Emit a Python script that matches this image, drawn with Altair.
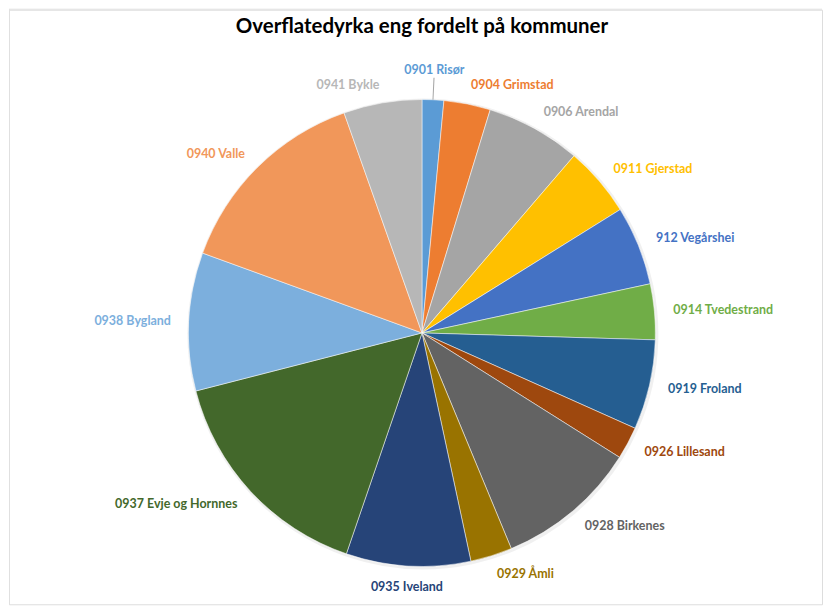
import altair as alt
import pandas as pd

title = "Overflatedyrka eng fordelt på kommuner"
kommuner = ["0901 Risør", "0904 Grimstad", "0906 Arendal", "0911 Gjerstad", "912 Vegårshei",
            "0914 Tvedestrand", "0919 Froland", "0926 Lillesand", "0928 Birkenes", "0929 Åmli",
            "0935 Iveland", "0937 Evje og Hornnes", "0938 Bygland", "0940 Valle", "0941 Bykle"]
verdier = [5.4, 11.6, 23.65, 17.45, 19.75, 13.85, 22.4, 8.1, 35.3, 10.4, 31.0, 56.7, 34.4, 50.5, 19.5]
farger = ["#5B9BD5", "#ED7D31", "#A5A5A5", "#FFC000", "#4472C4", "#70AD47", "#255E91", "#9E480E",
          "#636363", "#997300", "#264478", "#43682B", "#7CAFDD", "#F1975A", "#B7B7B7"]

df = pd.DataFrame({"kommune": kommuner, "verdi": verdier, "rekkefolge": list(range(len(kommuner)))})
total = float(sum(verdier))

W, H = 815, 596
CX, CY = 414, 324
R = 234
FONT = "Lato"
FS = 12.5

color = alt.Color("kommune:N", scale=alt.Scale(domain=kommuner, range=farger), legend=None)
theta_scale = alt.Scale(domain=[0, total])

base = alt.Chart(df)

shadow = base.mark_arc(radius=R + 2, color="#000000", opacity=0.06).encode(
    theta=alt.Theta("verdi:Q", stack=True, scale=theta_scale),
    order=alt.Order("rekkefolge:Q"),
    x=alt.value(CX + 1), y=alt.value(CY + 1),
)

pie = base.mark_arc(radius=R, stroke="#FFFFFF", strokeWidth=0.5).encode(
    theta=alt.Theta("verdi:Q", stack=True, scale=theta_scale),
    order=alt.Order("rekkefolge:Q"),
    color=color,
    x=alt.value(CX), y=alt.value(CY),
)

mid = base.transform_window(
    cum="sum(verdi)", sort=[alt.SortField("rekkefolge")], frame=[None, 0]
).transform_calculate(
    mid="datum.cum - datum.verdi / 2",
    deg="(datum.cum - datum.verdi / 2) / %f * 360" % total,
).transform_calculate(
    side="datum.deg < 4 || (datum.deg > 176 && datum.deg < 190) ? 'c' : (datum.deg < 180 ? 'r' : 'l')",
    lo="datum.mid - %f" % (total * 0.12 / 360),
    hi="datum.mid + %f" % (total * 0.12 / 360),
)

def labels(filt, align, radius):
    return mid.transform_filter(filt).mark_text(
        align=align, baseline="middle", radius=radius, font=FONT, fontSize=FS, fontWeight="bold"
    ).encode(
        theta=alt.Theta("mid:Q", stack=None, scale=theta_scale),
        text="kommune:N",
        color=color,
        x=alt.value(CX), y=alt.value(CY),
    )

right = labels(alt.datum.side == "r", "left", 253)
left = labels(alt.datum.side == "l", "right", 252)
center_top = labels((alt.datum.side == "c") & (alt.datum.deg < 90), "center", 264)
center_bot = labels((alt.datum.side == "c") & (alt.datum.deg > 90), "center", 255)

leader = mid.transform_filter((alt.datum.side == "c") & (alt.datum.deg < 90)).mark_arc(
    radius=R, radius2=R + 22, color="#A6A6A6"
).encode(
    theta=alt.Theta("lo:Q", stack=None, scale=theta_scale),
    theta2="hi:Q",
    x=alt.value(CX), y=alt.value(CY),
)

title_mark = alt.Chart(pd.DataFrame({"t": [title]})).mark_text(
    font=FONT, fontSize=20.5, fontWeight="bold", color="#000000", align="center", baseline="alphabetic"
).encode(text="t:N", x=alt.value(CX), y=alt.value(23))

frame_src = alt.Chart(pd.DataFrame({"f": [0]}))
frame_top = frame_src.mark_rule(color="#E0E0E0", strokeWidth=1).encode(
    x=alt.value(0), x2=alt.value(W), y=alt.value(-0.5)
)
frame_left = frame_src.mark_rule(color="#E0E0E0", strokeWidth=1).encode(
    x=alt.value(0.5), y=alt.value(-0.5), y2=alt.value(H)
)

chart = alt.layer(frame_top, frame_left, shadow, pie, leader, right, left, center_top, center_bot,
                  title_mark).properties(
    width=W, height=H
).resolve_scale(theta="shared").configure_view(stroke="transparent", strokeWidth=0).configure(
    padding=0, background="#FFFFFF"
)

chart.save("out.html", embed_options={"renderer": "svg", "actions": False})
